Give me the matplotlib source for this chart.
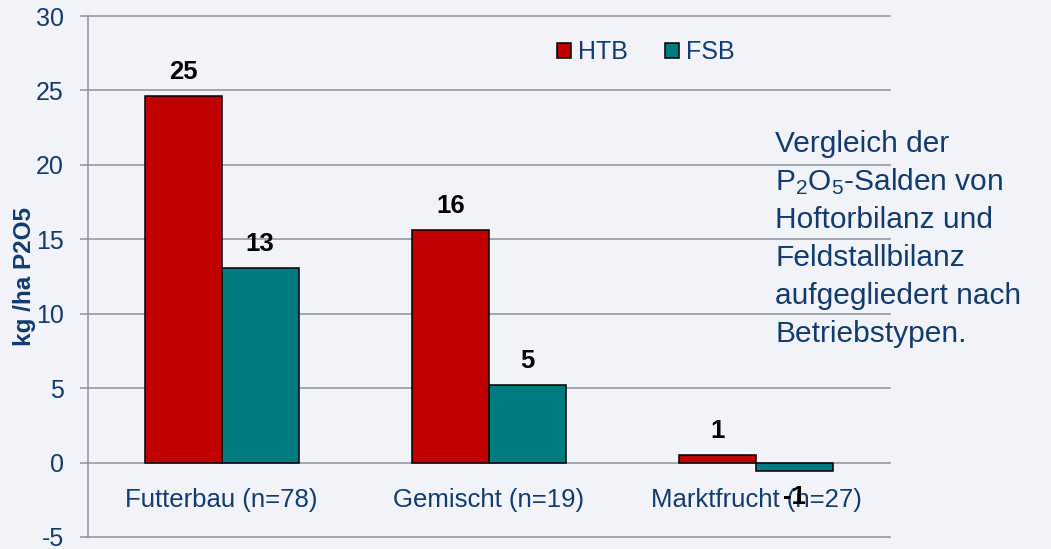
import matplotlib
matplotlib.use("Agg")
import matplotlib.pyplot as plt
import numpy as np
import math

plt.rcParams['font.family'] = ['Liberation Sans', 'DejaVu Sans']
plt.rcParams['mathtext.fontset'] = 'custom'
plt.rcParams['mathtext.rm'] = 'Liberation Sans'
plt.rcParams['mathtext.it'] = 'Liberation Sans:italic'
plt.rcParams['mathtext.bf'] = 'Liberation Sans:bold'

categories = ["Futterbau (n=78)", "Gemischt (n=19)", "Marktfrucht (n=27)"]
series_names = ["HTB", "FSB"]
htb = [24.6, 15.6, 0.5]
fsb = [13.1, 5.2, -0.55]
yticks = [-5, 0, 5, 10, 15, 20, 25, 30]
ylabel = "kg /ha P2O5"
note_lines = ["Vergleich der", r"P$_\mathregular{2}$O$_\mathregular{5}$-Salden von", "Hoftorbilanz und",
              "Feldstallbilanz", "aufgegliedert nach", "Betriebstypen."]

BG = "#f1f3f8"
GRID = "#8c93a0"
TXT = "#123b6e"
RED = "#c00000"
TEAL = "#007b80"

W, H = 1051, 549
fig = plt.figure(figsize=(W / 100, H / 100), dpi=100, facecolor=BG)
ax = fig.add_axes([88 / W, 1 - 537 / H, (890 - 88) / W, (537 - 16) / H], facecolor=BG)

x = np.arange(len(categories))
bw = 0.288
colors = [RED, TEAL]
for i, (vals, col, name) in enumerate(zip([htb, fsb], colors, series_names)):
    ax.bar(x + (i - 0.5) * bw, vals, bw, color=col, edgecolor="black",
           linewidth=1.1, label=name, zorder=3)


def round_half_away(v):
    return int(math.copysign(math.floor(abs(v) + 0.5), v))


for i, vals in enumerate([htb, fsb]):
    for xi, v in zip(x, vals):
        xc = xi + (i - 0.5) * bw
        off = 17 if v >= 0 else -33
        ax.annotate(str(round_half_away(v)), (xc, v), xytext=(0, off),
                    textcoords="offset pixels", ha="center", va="baseline",
                    fontsize=18.5, fontweight="bold", color="black", zorder=5)

ax.set_ylim(-5, 30)
ax.set_xlim(-0.5, len(categories) - 0.5)
ax.set_yticks(yticks)
ax.set_yticklabels([str(t) for t in yticks])
ax.tick_params(axis="y", length=5.8, width=1.1, color=GRID, labelcolor=TXT,
               labelsize=18, pad=11.5)
ax.set_xticks([])
for yv in yticks:
    ax.axhline(yv, color=GRID, linewidth=1.1, zorder=1, clip_on=False)
for s in ["top", "right", "bottom"]:
    ax.spines[s].set_visible(False)
ax.spines["left"].set_color(GRID)
ax.spines["left"].set_linewidth(1.1)

for xi, c in zip(x, categories):
    ax.annotate(c, (xi, 0), xytext=(0, -44), textcoords="offset pixels",
                ha="center", va="baseline", fontsize=18.5, color=TXT, zorder=2)

fig.text(25 / W, 1 - 277 / H, ylabel, rotation=90, ha="center", va="center",
         fontsize=17.5, fontweight="bold", color=TXT)

ax.legend(loc="center left", bbox_to_anchor=((557 - 88) / 802, (537 - 52) / 521),
          ncol=2, frameon=False, fontsize=18, handlelength=0.56,
          handleheight=0.56, handletextpad=0.3, columnspacing=1.45,
          borderpad=0, borderaxespad=0, labelcolor=TXT)

for k, line in enumerate(note_lines):
    fig.text(775 / W, 1 - (152 + 38 * k) / H, line, ha="left", va="baseline",
             fontsize=21.5, color=TXT)

fig.savefig("out.png", dpi=100, facecolor=BG)
